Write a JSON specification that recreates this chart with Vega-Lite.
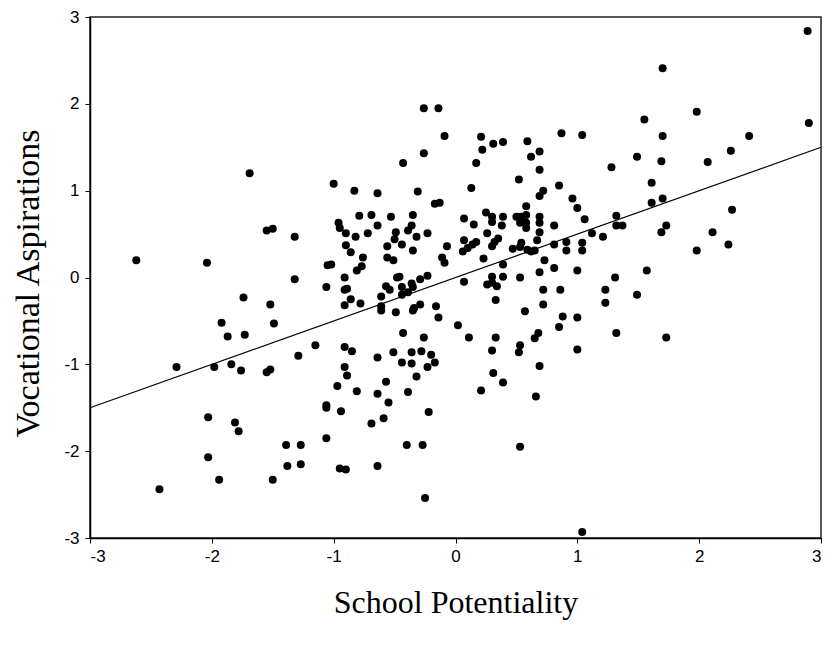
{
  "$schema": "https://vega.github.io/schema/vega-lite/v6.json",
  "width": 731,
  "height": 521,
  "autosize": {"type": "none"},
  "padding": {"left": 90, "top": 17, "right": 11, "bottom": 109},
  "background": "white",
  "config": {
    "view": {"stroke": "#222", "strokeWidth": 1.5},
    "axis": {
      "grid": false,
      "domainColor": "black",
      "domainWidth": 1.5,
      "tickColor": "black",
      "tickSize": 5,
      "labelFont": "Liberation Sans",
      "labelFontSize": 17,
      "labelColor": "black",
      "titleFont": "Liberation Serif",
      "titleFontSize": 32,
      "titleFontWeight": "normal",
      "titleColor": "black"
    }
  },
  "datasets": {
    "pts": [
      {"sp": -1.69, "va": 1.20}, {"sp": -0.26, "va": 1.95}, {"sp": -0.14, "va": 1.95}, {"sp": -0.09, "va": 1.63},
      {"sp": -0.26, "va": 1.43}, {"sp": -0.43, "va": 1.32}, {"sp": -1.00, "va": 1.08}, {"sp": -0.83, "va": 1.00},
      {"sp": -0.64, "va": 0.97}, {"sp": -0.31, "va": 0.99}, {"sp": 1.55, "va": 1.82}, {"sp": 0.21, "va": 1.62},
      {"sp": 0.31, "va": 1.54}, {"sp": 0.39, "va": 1.56}, {"sp": 0.22, "va": 1.47}, {"sp": 0.59, "va": 1.57},
      {"sp": 0.87, "va": 1.66}, {"sp": 1.04, "va": 1.64}, {"sp": 0.69, "va": 1.45}, {"sp": 0.62, "va": 1.39},
      {"sp": 1.49, "va": 1.39}, {"sp": 0.17, "va": 1.32}, {"sp": 1.28, "va": 1.27}, {"sp": 0.69, "va": 1.24},
      {"sp": 0.52, "va": 1.13}, {"sp": 0.13, "va": 1.03}, {"sp": 0.72, "va": 1.00}, {"sp": 0.85, "va": 1.06},
      {"sp": 2.89, "va": 2.84}, {"sp": 1.70, "va": 2.41}, {"sp": 1.98, "va": 1.91}, {"sp": 1.70, "va": 1.63},
      {"sp": 2.90, "va": 1.78}, {"sp": 2.41, "va": 1.63}, {"sp": 2.26, "va": 1.46}, {"sp": 1.69, "va": 1.34},
      {"sp": 2.07, "va": 1.33}, {"sp": 1.61, "va": 1.09}, {"sp": 1.61, "va": 0.86}, {"sp": 1.70, "va": 0.91},
      {"sp": 2.27, "va": 0.78}, {"sp": 1.73, "va": 0.60}, {"sp": 1.69, "va": 0.52}, {"sp": 2.11, "va": 0.52},
      {"sp": 2.24, "va": 0.38}, {"sp": 1.98, "va": 0.31}, {"sp": 1.57, "va": 0.08}, {"sp": 1.73, "va": -0.69},
      {"sp": -1.55, "va": 0.54}, {"sp": -1.50, "va": 0.56}, {"sp": -2.62, "va": 0.20}, {"sp": -2.04, "va": 0.17},
      {"sp": -1.74, "va": -0.23}, {"sp": -1.52, "va": -0.31}, {"sp": -1.92, "va": -0.52}, {"sp": -1.87, "va": -0.68},
      {"sp": -1.73, "va": -0.66}, {"sp": -1.49, "va": -0.53}, {"sp": -2.29, "va": -1.03}, {"sp": -1.98, "va": -1.03},
      {"sp": -1.84, "va": -1.00}, {"sp": -1.76, "va": -1.07}, {"sp": -1.55, "va": -1.09}, {"sp": -1.52, "va": -1.06},
      {"sp": -2.03, "va": -1.61}, {"sp": -1.81, "va": -1.67}, {"sp": -1.78, "va": -1.77}, {"sp": -2.03, "va": -2.07},
      {"sp": -1.94, "va": -2.33}, {"sp": -1.50, "va": -2.33}, {"sp": -2.43, "va": -2.44},
      {"sp": -0.91, "va": -1.03}, {"sp": -0.89, "va": -1.13}, {"sp": -0.97, "va": -1.25}, {"sp": -0.81, "va": -1.31},
      {"sp": -1.06, "va": -1.47}, {"sp": -1.06, "va": -1.50}, {"sp": -0.94, "va": -1.54}, {"sp": -0.57, "va": -1.20},
      {"sp": -0.64, "va": -1.34}, {"sp": -0.55, "va": -1.44}, {"sp": -0.32, "va": -1.14}, {"sp": -0.39, "va": -1.32},
      {"sp": -0.23, "va": -1.03}, {"sp": -0.22, "va": -1.55}, {"sp": -0.69, "va": -1.68}, {"sp": -0.59, "va": -1.62},
      {"sp": -1.06, "va": -1.85}, {"sp": -1.39, "va": -1.93}, {"sp": -1.27, "va": -1.93}, {"sp": -1.38, "va": -2.17},
      {"sp": -1.27, "va": -2.15}, {"sp": -0.95, "va": -2.20}, {"sp": -0.90, "va": -2.21}, {"sp": -0.64, "va": -2.17},
      {"sp": -0.40, "va": -1.93}, {"sp": -0.27, "va": -1.93}, {"sp": -0.25, "va": -2.54},
      {"sp": 0.69, "va": -1.02}, {"sp": 0.31, "va": -1.10}, {"sp": 0.39, "va": -1.21}, {"sp": 0.21, "va": -1.30},
      {"sp": 0.66, "va": -1.37}, {"sp": 0.53, "va": -1.95}, {"sp": 1.04, "va": -2.93},
      {"sp": 0.69, "va": 0.94}, {"sp": 0.96, "va": 0.91}, {"sp": 1.00, "va": 0.80}, {"sp": 1.06, "va": 0.67},
      {"sp": 1.32, "va": 0.71}, {"sp": 1.32, "va": 0.60}, {"sp": 1.37, "va": 0.60}, {"sp": 1.12, "va": 0.51},
      {"sp": 1.21, "va": 0.47}, {"sp": 1.31, "va": 0.00}, {"sp": 1.23, "va": -0.14}, {"sp": 1.23, "va": -0.29},
      {"sp": 1.49, "va": -0.20}, {"sp": 1.32, "va": -0.64}, {"sp": 1.00, "va": -0.46}, {"sp": 0.88, "va": -0.45},
      {"sp": 0.85, "va": -0.57}, {"sp": 1.00, "va": -0.83}, {"sp": 0.53, "va": -0.78}, {"sp": 0.52, "va": -0.86},
      {"sp": 0.68, "va": -0.64}, {"sp": 0.65, "va": -0.70}, {"sp": 0.86, "va": -0.14}, {"sp": 0.72, "va": -0.14},
      {"sp": 0.72, "va": -0.31}, {"sp": 0.57, "va": -0.39}, {"sp": 0.33, "va": -0.26}, {"sp": 0.33, "va": -0.69},
      {"sp": 0.11, "va": -0.69}, {"sp": 0.30, "va": -0.84}, {"sp": 0.69, "va": 0.06}, {"sp": 0.81, "va": 0.11},
      {"sp": 1.00, "va": 0.08}, {"sp": 0.73, "va": 0.20}, {"sp": 0.53, "va": 0.00}, {"sp": 0.39, "va": 0.01},
      {"sp": 0.30, "va": 0.01}, {"sp": 0.30, "va": -0.06}, {"sp": 0.26, "va": -0.08}, {"sp": 0.34, "va": -0.10},
      {"sp": 0.07, "va": -0.05}, {"sp": 0.23, "va": 0.22}, {"sp": 0.39, "va": 0.15}, {"sp": 0.81, "va": 0.38},
      {"sp": 0.91, "va": 0.41}, {"sp": 0.91, "va": 0.31}, {"sp": 1.04, "va": 0.40}, {"sp": 1.04, "va": 0.31},
      {"sp": 0.67, "va": 0.43}, {"sp": 0.65, "va": 0.31}, {"sp": 0.62, "va": 0.30}, {"sp": 0.59, "va": 0.32},
      {"sp": 0.54, "va": 0.40}, {"sp": 0.53, "va": 0.35}, {"sp": 0.47, "va": 0.33}, {"sp": 0.69, "va": 0.52},
      {"sp": 0.69, "va": 0.63}, {"sp": 0.69, "va": 0.70}, {"sp": 0.81, "va": 0.60}, {"sp": 0.58, "va": 0.82},
      {"sp": 0.58, "va": 0.72}, {"sp": 0.58, "va": 0.63}, {"sp": 0.58, "va": 0.57}, {"sp": 0.54, "va": 0.70},
      {"sp": 0.53, "va": 0.63}, {"sp": 0.50, "va": 0.70}, {"sp": 0.39, "va": 0.70}, {"sp": 0.38, "va": 0.60},
      {"sp": 0.30, "va": 0.70}, {"sp": 0.30, "va": 0.64}, {"sp": 0.25, "va": 0.75}, {"sp": 0.07, "va": 0.68},
      {"sp": 0.15, "va": 0.61}, {"sp": 0.26, "va": 0.51}, {"sp": 0.07, "va": 0.43}, {"sp": 0.17, "va": 0.41},
      {"sp": 0.14, "va": 0.38}, {"sp": 0.10, "va": 0.34}, {"sp": 0.06, "va": 0.30}, {"sp": 0.32, "va": 0.41},
      {"sp": 0.30, "va": 0.36}, {"sp": 0.35, "va": 0.45},
      {"sp": -0.17, "va": 0.85}, {"sp": -0.13, "va": 0.86}, {"sp": -0.79, "va": 0.71}, {"sp": -0.69, "va": 0.72},
      {"sp": -0.53, "va": 0.70}, {"sp": -0.35, "va": 0.72}, {"sp": -0.96, "va": 0.63}, {"sp": -0.95, "va": 0.57},
      {"sp": -0.64, "va": 0.60}, {"sp": -0.36, "va": 0.60}, {"sp": -0.39, "va": 0.54}, {"sp": -0.90, "va": 0.51},
      {"sp": -0.82, "va": 0.47}, {"sp": -0.72, "va": 0.51}, {"sp": -1.32, "va": 0.47}, {"sp": -0.49, "va": 0.52},
      {"sp": -0.50, "va": 0.44}, {"sp": -0.32, "va": 0.47}, {"sp": -0.23, "va": 0.51}, {"sp": -0.90, "va": 0.37},
      {"sp": -0.86, "va": 0.29}, {"sp": -0.56, "va": 0.36}, {"sp": -0.44, "va": 0.38}, {"sp": -0.35, "va": 0.31},
      {"sp": -0.07, "va": 0.36}, {"sp": -0.56, "va": 0.23}, {"sp": -0.51, "va": 0.20}, {"sp": -0.11, "va": 0.23},
      {"sp": -0.09, "va": 0.17}, {"sp": -0.76, "va": 0.23}, {"sp": -0.77, "va": 0.13}, {"sp": -0.81, "va": 0.08},
      {"sp": -1.05, "va": 0.14}, {"sp": -1.02, "va": 0.15}, {"sp": -1.32, "va": -0.02}, {"sp": -0.91, "va": 0.00},
      {"sp": -1.06, "va": -0.11}, {"sp": -0.91, "va": -0.14}, {"sp": -0.89, "va": -0.13}, {"sp": -0.86, "va": -0.25},
      {"sp": -0.91, "va": -0.32}, {"sp": -0.78, "va": -0.30}, {"sp": -0.48, "va": 0.00}, {"sp": -0.46, "va": 0.01},
      {"sp": -0.36, "va": -0.07}, {"sp": -0.35, "va": -0.11}, {"sp": -0.29, "va": -0.02}, {"sp": -0.23, "va": 0.02},
      {"sp": -0.57, "va": -0.10}, {"sp": -0.54, "va": -0.14}, {"sp": -0.61, "va": -0.22}, {"sp": -0.44, "va": -0.11},
      {"sp": -0.44, "va": -0.20}, {"sp": -0.39, "va": -0.17}, {"sp": -0.61, "va": -0.33}, {"sp": -0.61, "va": -0.38},
      {"sp": -0.49, "va": -0.40}, {"sp": -0.35, "va": -0.38}, {"sp": -0.34, "va": -0.35}, {"sp": -0.29, "va": -0.31},
      {"sp": -0.16, "va": -0.33}, {"sp": -0.14, "va": -0.46}, {"sp": 0.02, "va": -0.55}, {"sp": -0.43, "va": -0.64},
      {"sp": -0.26, "va": -0.69}, {"sp": -1.15, "va": -0.78}, {"sp": -1.29, "va": -0.90}, {"sp": -0.91, "va": -0.80},
      {"sp": -0.85, "va": -0.85}, {"sp": -0.64, "va": -0.92}, {"sp": -0.51, "va": -0.86}, {"sp": -0.36, "va": -0.86},
      {"sp": -0.28, "va": -0.85}, {"sp": -0.20, "va": -0.89}, {"sp": -0.17, "va": -0.98}, {"sp": -0.44, "va": -0.98},
      {"sp": -0.36, "va": -0.99}
    ],
    "fit": [
      {"sp": -3, "va": -1.5},
      {"sp": 3, "va": 1.5}
    ]
  },
  "layer": [
    {
      "data": {"name": "pts"},
      "mark": {"type": "circle", "size": 64, "color": "black", "opacity": 1},
      "encoding": {
        "x": {
          "field": "sp", "type": "quantitative",
          "scale": {"domain": [-3, 3], "nice": false, "zero": false},
          "axis": {"title": "School Potentiality", "values": [-3, -2, -1, 0, 1, 2, 3], "labelExpr": "'' + datum.value", "labelPadding": 5, "titleY": 74, "titleBaseline": "alphabetic"}
        },
        "y": {
          "field": "va", "type": "quantitative",
          "scale": {"domain": [-3, 3], "nice": false, "zero": false},
          "axis": {"title": "Vocational Aspirations", "values": [-3, -2, -1, 0, 1, 2, 3], "labelExpr": "'' + datum.value", "labelPadding": 6, "titleX": -52, "titleY": 266, "titleFontSize": 34, "titleBaseline": "alphabetic"}
        }
      }
    },
    {
      "data": {"name": "fit"},
      "mark": {"type": "line", "color": "black", "strokeWidth": 1.2},
      "encoding": {
        "x": {"field": "sp", "type": "quantitative"},
        "y": {"field": "va", "type": "quantitative"}
      }
    }
  ]
}
